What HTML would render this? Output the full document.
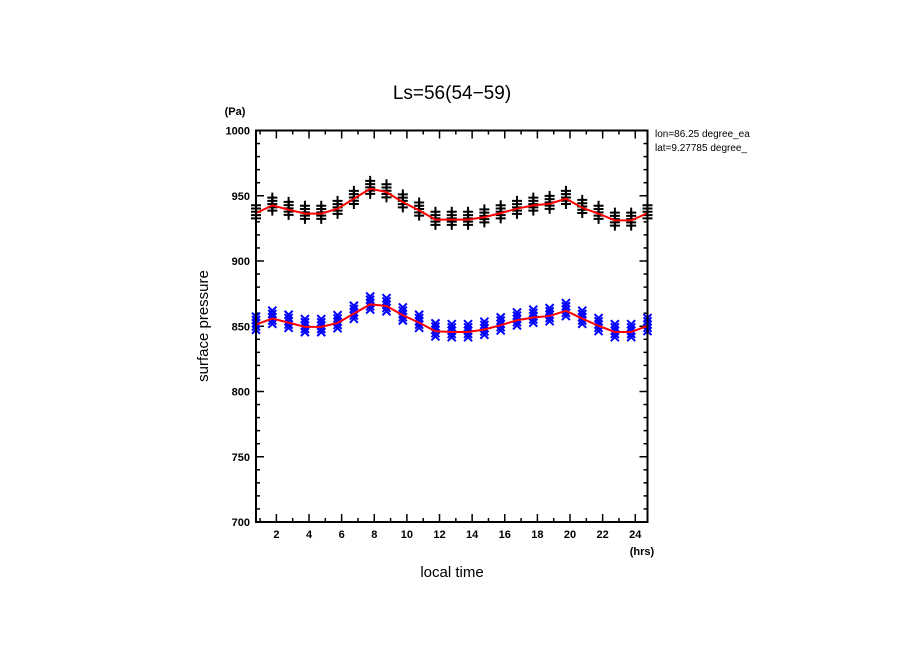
<!DOCTYPE html>
<html><head><meta charset="utf-8"><style>
html,body{margin:0;padding:0;background:#fff;}
svg{display:block;font-family:"Liberation Sans",sans-serif;}
</style></head><body>
<svg id="chart" width="904" height="654" viewBox="0 0 904 654">
<text x="452" y="99" font-size="19" text-anchor="middle">Ls=56(54−59)</text>
<text x="235" y="115" font-size="11" font-weight="bold" text-anchor="middle">(Pa)</text>
<text x="655" y="137" font-size="10">lon=86.25 degree_ea</text>
<text x="655" y="151" font-size="10">lat=9.27785 degree_</text>
<rect x="778" y="126" width="60" height="30" fill="#fff"/>
<text transform="translate(208,326) rotate(-90)" font-size="15" text-anchor="middle">surface pressure</text>
<text x="452" y="577" font-size="15" text-anchor="middle">local time</text>
<text x="642" y="555" font-size="11" font-weight="bold" text-anchor="middle">(hrs)</text>
<g id="ticks"></g>
<g id="marks"></g>
<rect x="256" y="130.5" width="391.5" height="391.5" fill="none" stroke="#000" stroke-width="2"/>
</svg>
<script>
const hours = [0.75,1.75,2.75,3.75,4.75,5.75,6.75,7.75,8.75,9.75,10.75,11.75,12.75,13.75,14.75,15.75,16.75,17.75,18.75,19.75,20.75,21.75,22.75,23.75,24.75];
const blackMean = [936.7,942.6,939.3,936.3,936.3,940.1,947.7,955.4,952.8,945.1,938.8,931.7,931.7,931.7,933.6,936.7,940.1,942.6,943.9,947.7,940.8,936.3,931.1,931.1,936.7];
const blueMean = [851.3,855.9,852.8,849.5,849.5,852.5,859.7,866.8,865.5,858.4,852.8,846.2,845.6,845.6,847.5,850.8,854.6,856.7,857.9,861.8,855.9,850.3,845.6,845.6,850.3];
const sampleOffsets = [-4,-1.5,1,3.5,6];
const yTicks = [700,750,800,850,900,950,1000];
const xTickLabels = [2,4,6,8,10,12,14,16,18,20,22,24];

const L=256,R=647.5,T=130.5,B=522;
const x0=0.75,x1=24.75,y0=700,y1=1000;
function sx(h){return L+(h-x0)/(x1-x0)*(R-L);}
function sy(v){return B-(v-y0)/(y1-y0)*(B-T);}
const NS="http://www.w3.org/2000/svg";
function mk(tag,attrs,parent){const e=document.createElementNS(NS,tag);for(const k in attrs)e.setAttribute(k,attrs[k]);parent.appendChild(e);return e;}
const tg=document.getElementById('ticks'), mg=document.getElementById('marks');
for(let v=700;v<=1000;v+=10){
  const len=(v%50===0)?8:4;
  let t=mk('line',{x1:L,x2:L+len,y1:sy(v),y2:sy(v),stroke:'#000','stroke-width':1.5},tg);
  
  
  let t2=mk('line',{x1:R,x2:R-len,y1:sy(v),y2:sy(v),stroke:'#000','stroke-width':1.5},tg);
  
  
}
yTicks.forEach(v=>{
  const t=mk('text',{x:L-6,y:sy(v)+4,'font-size':11,'font-weight':'bold','text-anchor':'end'},tg);
  t.textContent=v;
  
  
});
for(let h=1;h<=24;h++){
  const len=(h%2===0)?8:4;
  let t=mk('line',{x1:sx(h),x2:sx(h),y1:B,y2:B-len,stroke:'#000','stroke-width':1.5},tg);
  
  
  let t2=mk('line',{x1:sx(h),x2:sx(h),y1:T,y2:T+len,stroke:'#000','stroke-width':1.5},tg);
  
  
}
xTickLabels.forEach(h=>{
  const t=mk('text',{x:sx(h),y:B+16,'font-size':11,'font-weight':'bold','text-anchor':'middle'},tg);
  t.textContent=h;
  
  
});
// black plus markers
hours.forEach((h,i)=>{
  sampleOffsets.forEach(o=>{
    const cx=sx(h),cy=sy(blackMean[i]+o);
    const p=mk('path',{d:`M${cx-5},${cy}H${cx+5}M${cx},${cy-5}V${cy+5}`,stroke:'#000','stroke-width':2},mg);
    
    
  });
  sampleOffsets.forEach(o=>{
    const cx=sx(h),cy=sy(blueMean[i]+o);
    const p=mk('path',{d:`M${cx-4},${cy-4}L${cx+4},${cy+4}M${cx+4},${cy-4}L${cx-4},${cy+4}`,stroke:'#0000ff','stroke-width':2},mg);
    
    
  });
});
const lb=mk('polyline',{points:hours.map((h,i)=>sx(h)+','+sy(blackMean[i])).join(' '),fill:'none',stroke:'#ff0000','stroke-width':2},mg);


const lu=mk('polyline',{points:hours.map((h,i)=>sx(h)+','+sy(blueMean[i])).join(' '),fill:'none',stroke:'#ff0000','stroke-width':2},mg);


</script>
</body></html>
